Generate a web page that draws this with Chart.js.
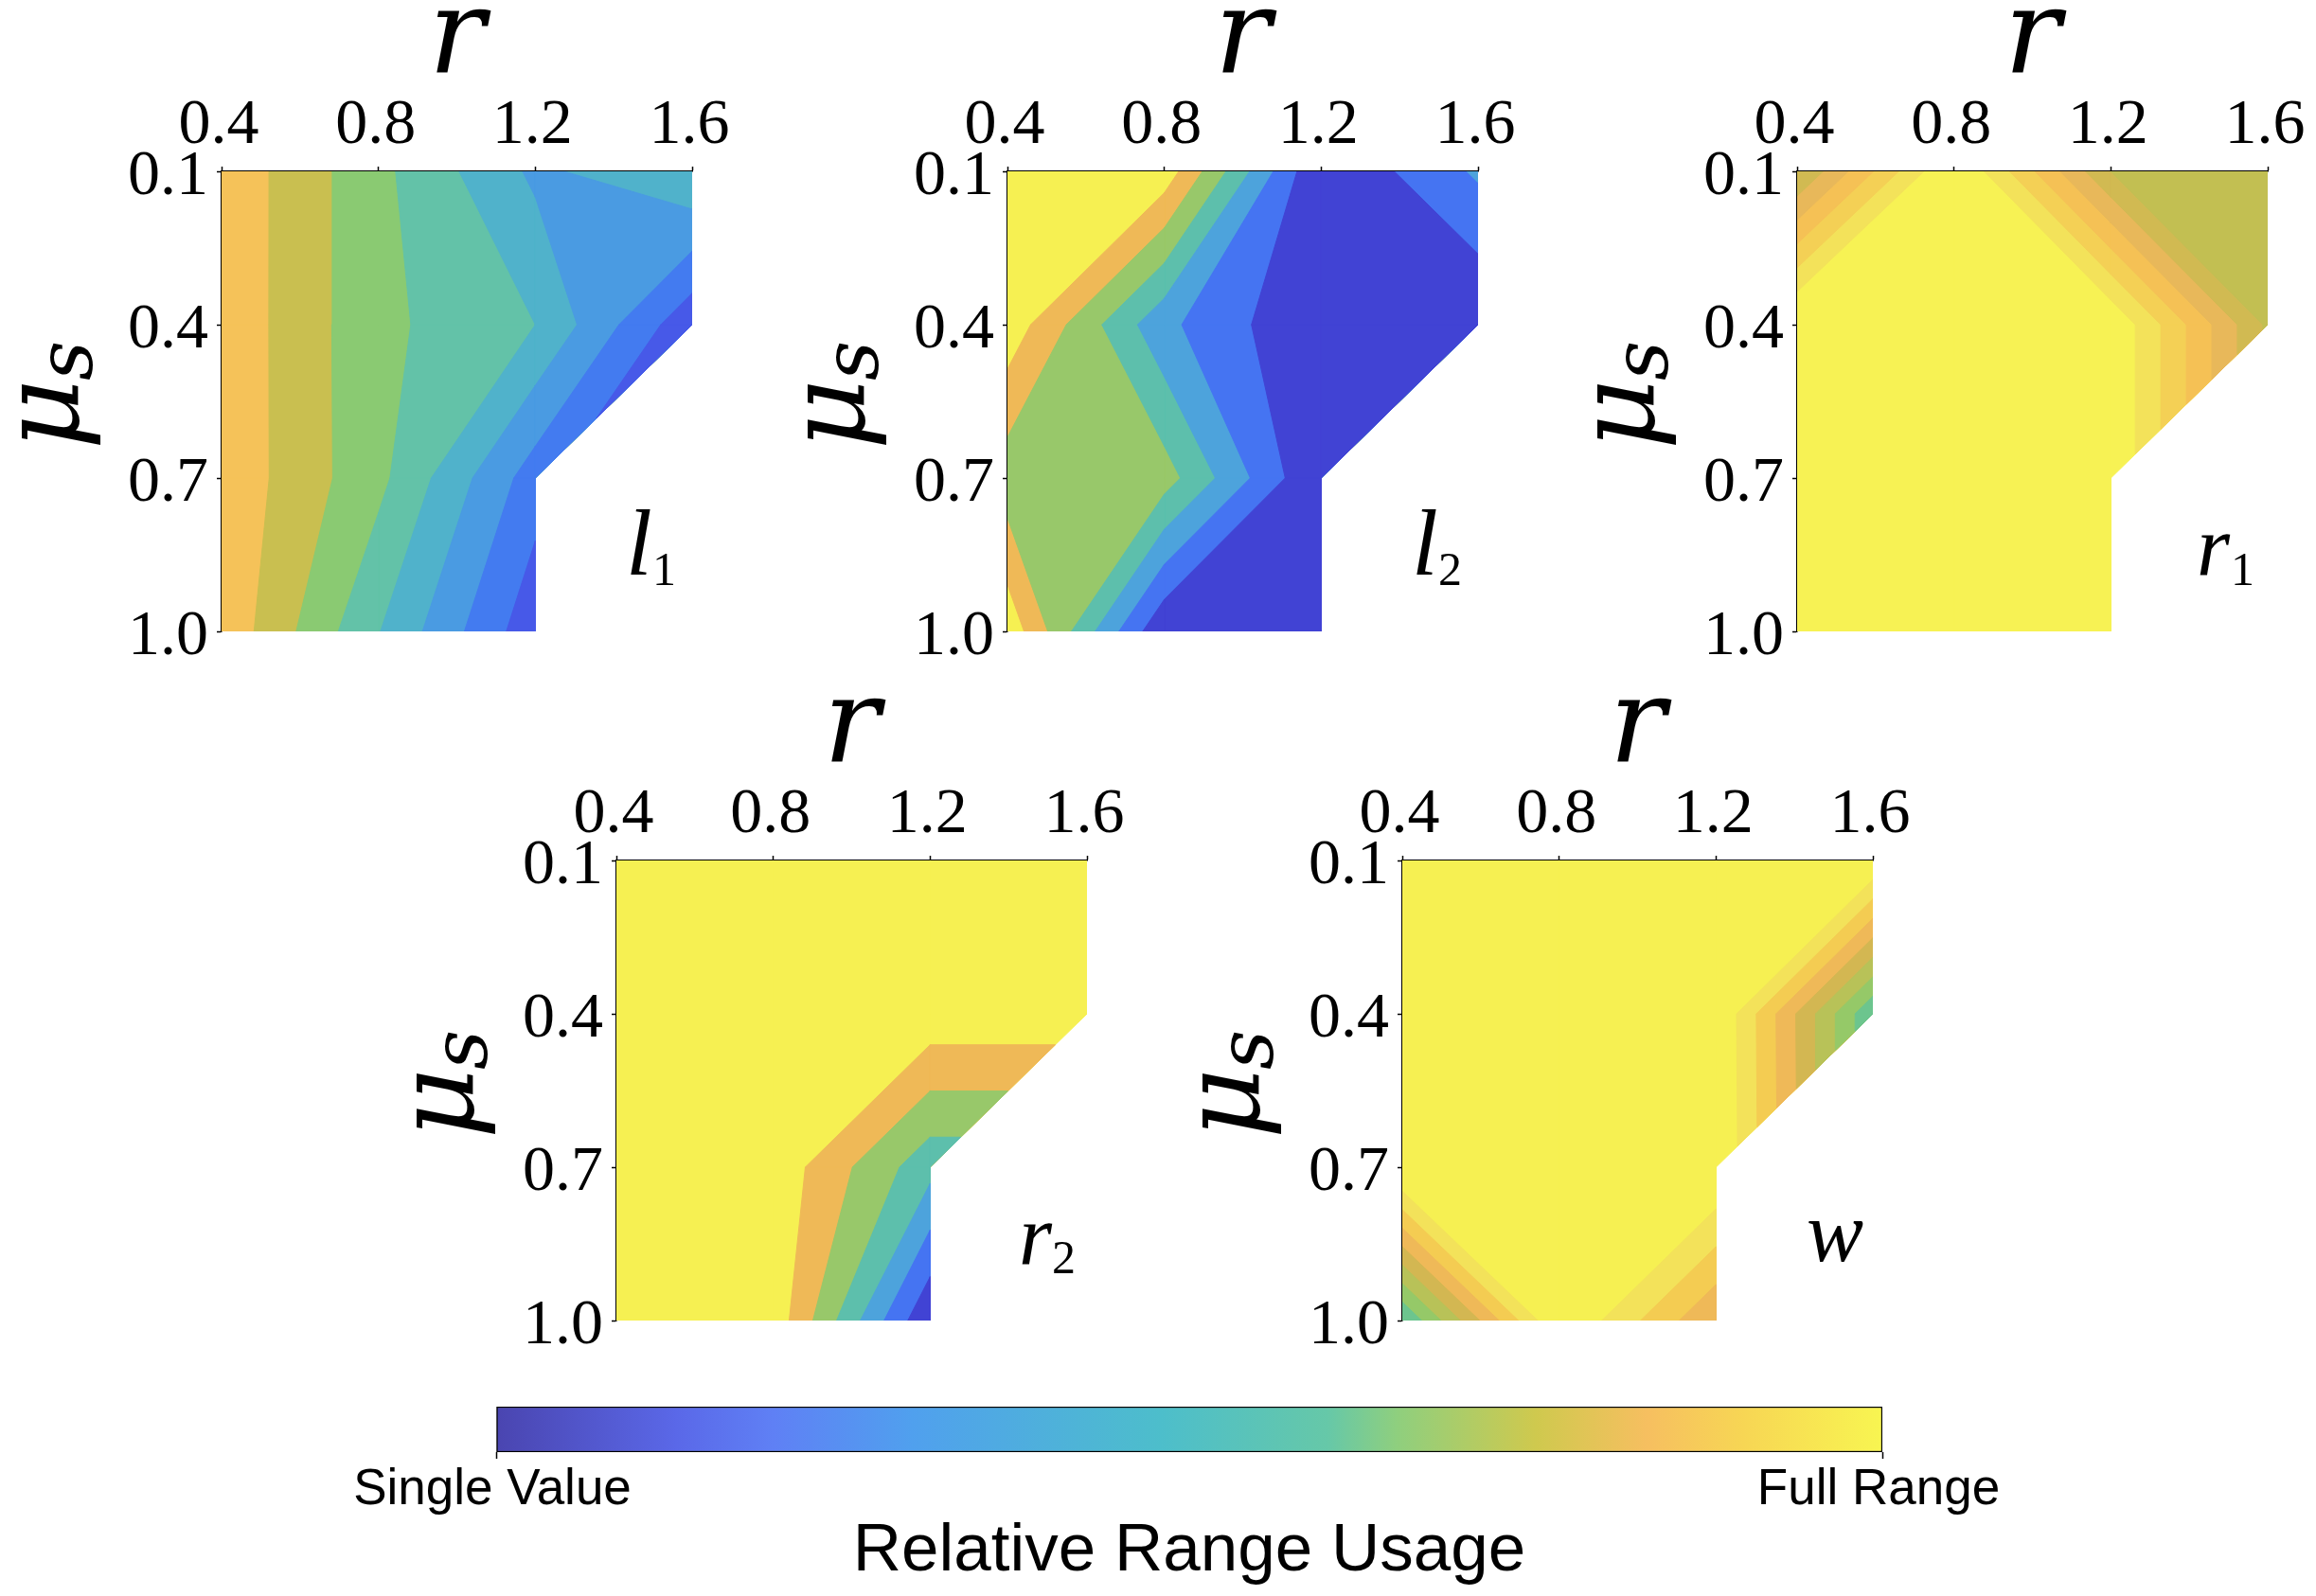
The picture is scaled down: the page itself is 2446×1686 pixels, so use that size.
<!DOCTYPE html>
<html>
<head>
<meta charset="utf-8">
<script src="https://cdn.jsdelivr.net/npm/chart.js@4"></script>
<style>
html,body{margin:0;padding:0;background:#fff;width:2446px;height:1686px;overflow:hidden}
canvas{position:absolute;display:block}
</style>
</head>
<body>
<script>
// Axes
const rValues = [0.4, 0.8, 1.2, 1.6];
const muValues = [0.1, 0.4, 0.7, 1.0];
const rTickLabels = ['0.4', '0.8', '1.2', '1.6'];
const muTickLabels = ['0.1', '0.4', '0.7', '1.0'];

// Node values (rows: mu, columns: r), expressed in contour-level units; null = no data
const l1Grid = [
  [0.25, 2.73, 5.20, 4.10],
  [0.25, 2.74, 4.00, 7.75],
  [0.25, 2.72, 6.52, null],
  [0.23, 3.95, 7.69, null]
];
const l2Grid = [
  [0.20, 0.39, 7.02, 4.83],
  [0.35, 4.75, 7.00, 7.00],
  [2.60, 2.54, 7.03, null],
  [0.30, 6.91, 7.50, null]
];
const r1Grid = [
  [6.03, -0.19, 6.00, 7.00],
  [-0.38, 0.00, 0.04, 6.19],
  [0.00, 0.00, 0.04, null],
  [0.00, 0.00, 0.00, null]
];
const r2Grid = [
  [0.30, 0.30, 0.30, 0.30],
  [0.30, 0.30, 0.33, 0.33],
  [0.30, 0.32, 3.65, null],
  [0.30, 0.33, 6.94, null]
];
const wGrid = [
  [0.00, 0.00, 0.00, 0.02],
  [0.00, 0.00, -0.04, 7.90],
  [-0.30, -0.20, -0.10, null],
  [8.00, -0.10, 3.95, null]
];

// Band colours, low level to high level
const l1Colors = ['#F5C259','#C9BF50','#8ACA72','#63C2A8','#50B2CB','#4A9BE2','#437BF0','#4759E8'];
const l2Colors = ['#F6F052','#EFB957','#98C86A','#5DBFAC','#4DA3DC','#4574F2','#4143D4'];
const r1Colors = ['#F7F254','#F3E25A','#F4D055','#F5C155','#E8B85A','#D1BA52','#C2BF52'];
const r2Colors = ['#F6F052','#EFB957','#98C86A','#5DBFAC','#4DA3DC','#4574F2','#4143D4'];
const wColors  = ['#F6F052','#F3E25A','#F4CC52','#EFB958','#D3B752','#B8C258','#95C968','#6CC58E'];

// Colour bar
const colorbarStops  = [0, 0.13, 0.2, 0.3, 0.48, 0.6, 0.65, 0.75, 0.83, 0.9, 1];
const colorbarColors = ['#4A45B0','#5A68E8','#5F80F5','#50A0EE','#4DBECB','#66C8A8','#8FCF7E','#CFC94E','#F6BF60','#F7D654','#F8F551'];
const colorbarTicks = ['Single Value', 'Full Range'];
const colorbarTitle = 'Relative Range Usage';
const xTitle = 'r';

Chart.defaults.animation = false;
Chart.defaults.devicePixelRatio = 1;

const serif = '"Liberation Serif"';
const mathSerif = '"DejaVu Serif"';

function contourCells(grid) {
  const cells = [];
  for (let j = 0; j < muValues.length - 1; j++) {
    for (let i = 0; i < rValues.length - 1; i++) {
      const corners = [[i, j], [i + 1, j], [i + 1, j + 1], [i, j + 1]]
        .filter(([a, b]) => grid[b][a] !== null)
        .map(([a, b]) => ({x: rValues[a], y: muValues[b], v: grid[b][a]}));
      if (corners.length >= 3) cells.push(corners);
    }
  }
  return cells;
}

// Region of one cell with value >= level; a saddle cell may give two pieces.
function regionPolygons(cell, level) {
  const cross = (a, b) => {
    const t = (level - a.v) / (b.v - a.v);
    return {x: a.x + t * (b.x - a.x), y: a.y + t * (b.y - a.y)};
  };
  const n = cell.length;
  const high = cell.map(c => c.v >= level);
  if (n === 4 && high[0] === high[2] && high[1] === high[3] && high[0] !== high[1]) {
    const mean = cell.reduce((s, c) => s + c.v, 0) / 4;
    if (mean < level) {
      const pieces = [];
      cell.forEach((c, i) => {
        if (!high[i]) return;
        pieces.push([cross(cell[(i + 3) % 4], c), {x: c.x, y: c.y}, cross(c, cell[(i + 1) % 4])]);
      });
      return pieces;
    }
  }
  const out = [];
  for (let i = 0; i < n; i++) {
    const a = cell[i], b = cell[(i + 1) % n];
    if (high[i]) out.push({x: a.x, y: a.y});
    if (high[i] !== high[(i + 1) % n]) out.push(cross(a, b));
  }
  return out.length >= 3 ? [out] : [];
}

function bandDatasets(grid, colors) {
  const sets = [];
  const cells = contourCells(grid);
  // Chart.js paints later datasets first, so the top level goes first in the list
  for (let b = colors.length - 1; b >= 0; b--) {
    const level = b === 0 ? -Infinity : b;
    cells.forEach(cell => {
      regionPolygons(cell, level).forEach(poly => {
        poly.push(poly[0]);
        sets.push({
          data: poly, showLine: true, fill: 'shape', tension: 0, pointRadius: 0,
          backgroundColor: colors[b], borderColor: colors[b], borderWidth: 1,
          borderJoinStyle: 'round'
        });
      });
    });
  }
  return sets;
}

const panels = [
  {grid: l1Grid, colors: l1Colors, main: 'l', sub: '1', left: 234,  top: 181, mx: 427, sx: 455, my: 426, sy: 437},
  {grid: l2Grid, colors: l2Colors, main: 'l', sub: '2', left: 1064, top: 181, mx: 427, sx: 455, my: 426, sy: 437},
  {grid: r1Grid, colors: r1Colors, main: 'r', sub: '1', left: 1898, top: 181, mx: 422, sx: 458, my: 426, sy: 437},
  {grid: r2Grid, colors: r2Colors, main: 'r', sub: '2', left: 651,  top: 909, mx: 425, sx: 460, my: 426, sy: 436},
  {grid: wGrid,  colors: wColors,  main: 'w', sub: '',  left: 1481, top: 909, mx: 427, sx: 0,   my: 423, sy: 0}
];

const PLOT_W = 497, PLOT_H = 486, AX_W = 234, AX_H = 181, PAD_R = 55, PAD_B = 60;

function drawText(ctx, text, font, x, y, rot) {
  ctx.save();
  ctx.translate(x, y);
  if (rot) ctx.rotate(-Math.PI / 2);
  ctx.font = font;
  ctx.fillStyle = '#000';
  ctx.textAlign = 'left';
  ctx.textBaseline = 'alphabetic';
  ctx.fillText(text, 0, 0);
  ctx.restore();
}

panels.forEach(p => {
  const cv = document.createElement('canvas');
  cv.width = AX_W + PLOT_W + PAD_R;
  cv.height = AX_H + PLOT_H + PAD_B;
  cv.style.left = (p.left - AX_W) + 'px';
  cv.style.top = (p.top - AX_H) + 'px';
  cv.style.width = cv.width + 'px';
  cv.style.height = cv.height + 'px';
  document.body.appendChild(cv);
  new Chart(cv, {
    type: 'scatter',
    data: {datasets: bandDatasets(p.grid, p.colors)},
    options: {
      responsive: false,
      layout: {padding: {left: 0, top: 0, right: PAD_R, bottom: PAD_B}},
      plugins: {legend: {display: false}, tooltip: {enabled: false}, title: {display: false}},
      scales: {
        x: {
          type: 'linear', position: 'top', min: rValues[0], max: rValues[rValues.length - 1],
          afterFit: s => { s.height = AX_H; },
          afterBuildTicks: s => { s.ticks = rValues.map(v => ({value: v})); },
          grid: {display: true, drawOnChartArea: false, drawTicks: true, tickLength: 5, tickColor: '#000', tickWidth: 1.5},
          border: {display: true, color: '#000', width: 1.5},
          ticks: {
            autoSkip: false, maxRotation: 0, minRotation: 0, padding: 2, labelOffset: -3, color: '#000',
            font: {family: serif, size: 68},
            callback: (v, i) => rTickLabels[i]
          },
          title: {display: true, text: xTitle, color: '#000', padding: {top: 24, bottom: 0},
            font: {family: mathSerif, style: 'italic', size: 125, lineHeight: 0.33}}
        },
        y: {
          type: 'linear', position: 'left', reverse: true, min: muValues[0], max: muValues[muValues.length - 1],
          afterFit: s => { s.width = AX_W; },
          afterBuildTicks: s => { s.ticks = muValues.map(v => ({value: v})); },
          grid: {display: true, drawOnChartArea: false, drawTicks: true, tickLength: 5, tickColor: '#000', tickWidth: 1.5},
          border: {display: true, color: '#000', width: 1.5},
          ticks: {
            autoSkip: false, padding: 9, labelOffset: 6, color: '#000',
            font: {family: serif, size: 68},
            callback: (v, i) => muTickLabels[i]
          }
        }
      }
    },
    plugins: [{
      id: 'mathLabels',
      afterDraw(chart) {
        const c = chart.ctx, a = chart.chartArea;
        drawText(c, 'μ', 'italic 115px ' + mathSerif, a.left - 152, a.top + 294, true);
        drawText(c, 's', 'italic 82px ' + mathSerif, a.left - 137, a.top + 221, true);
        const mainFont = p.main === 'l' ? 'italic 100px ' : 'italic 90px ';
        drawText(c, p.main, mainFont + serif, a.left + p.mx, a.top + p.my);
        if (p.sub) drawText(c, p.sub, '50px ' + serif, a.left + p.sx, a.top + p.sy);
      }
    }]
  });
});

// Colour bar
(function () {
  const cv = document.createElement('canvas');
  cv.width = 2146; cv.height = 216;
  cv.style.left = '300px'; cv.style.top = '1470px';
  cv.style.width = '2146px'; cv.style.height = '216px';
  document.body.appendChild(cv);
  new Chart(cv, {
    type: 'bar',
    data: {
      labels: [colorbarTitle],
      datasets: [{
        data: [1],
        barPercentage: 1, categoryPercentage: 1,
        borderColor: '#000', borderWidth: 1.5, borderSkipped: false,
        backgroundColor(ctx) {
          const area = ctx.chart.chartArea;
          if (!area) return colorbarColors[0];
          const g = ctx.chart.ctx.createLinearGradient(area.left, 0, area.right, 0);
          colorbarStops.forEach((s, i) => g.addColorStop(s, colorbarColors[i]));
          return g;
        }
      }]
    },
    options: {
      indexAxis: 'y', responsive: false,
      layout: {padding: {left: 224, right: 458, top: 16, bottom: 0}},
      plugins: {legend: {display: false}, tooltip: {enabled: false}},
      scales: {
        y: {display: false, type: 'category'},
        x: {
          type: 'linear', position: 'bottom', min: 0, max: 1,
          afterFit: s => { s.height = 152; },
          afterBuildTicks: s => { s.ticks = [{value: 0}, {value: 1}]; },
          grid: {display: true, drawOnChartArea: false, drawTicks: true, tickLength: 7, tickColor: '#000', tickWidth: 1.5},
          border: {display: false},
          ticks: {
            autoSkip: false, maxRotation: 0, minRotation: 0, padding: 2, labelOffset: -4, color: '#000',
            font: {family: '"Liberation Sans"', size: 53},
            callback: (v, i) => colorbarTicks[i]
          },
          title: {display: true, text: colorbarTitle, color: '#000', padding: {top: 0, bottom: 8},
            font: {family: '"Liberation Sans"', size: 71, lineHeight: 1.1}}
        }
      }
    }
  });
})();
</script>
</body>
</html>
